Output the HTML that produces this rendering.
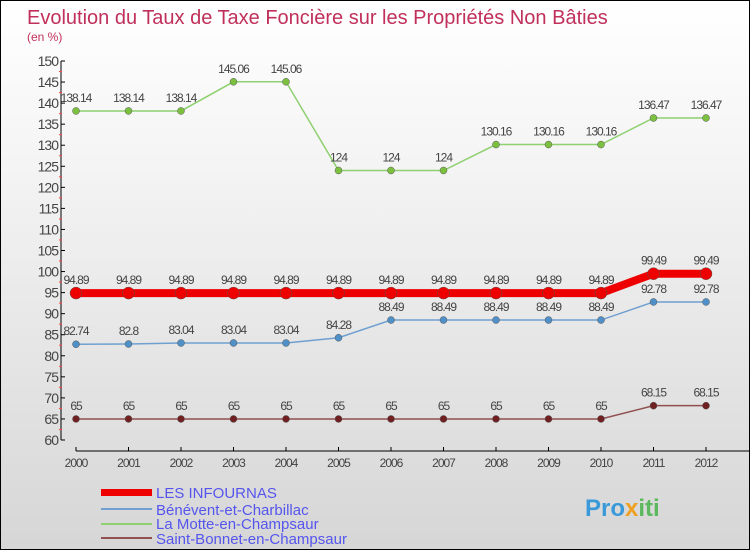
<!DOCTYPE html>
<html><head><meta charset="utf-8"><style>
body{margin:0}
#c{position:relative;width:748px;height:548px;border:1px solid #000;background:linear-gradient(#fff 0%,#f4f4f4 30%,#d6d6d6 100%);font-family:"Liberation Sans",sans-serif;overflow:hidden}
svg text{font-family:"Liberation Sans",sans-serif}
</style></head><body>
<div id="c">
<svg id="s" width="748" height="548">
<text x="26" y="23" font-size="20" fill="#c0305a">Evolution du Taux de Taxe Foncière sur les Propriétés Non Bâties</text>
<text x="26" y="40" font-size="12" fill="#c0305a">(en %)</text>
<g id="g"></g>
<g>
<rect x="100" y="488" width="51" height="7" fill="#e00"/>
<text x="155" y="497" font-size="15" fill="#5555ee">LES INFOURNAS</text>
<line x1="100" y1="508" x2="151" y2="508" stroke="#6fa0d0" stroke-width="2"/>
<text x="155" y="514" font-size="15" fill="#5555ee">Bénévent-et-Charbillac</text>
<line x1="100" y1="523" x2="151" y2="523" stroke="#8fd070" stroke-width="2"/>
<text x="155" y="528" font-size="15" fill="#5555ee">La Motte-en-Champsaur</text>
<line x1="100" y1="537" x2="151" y2="537" stroke="#905050" stroke-width="2"/>
<text x="155" y="543" font-size="15" fill="#5555ee">Saint-Bonnet-en-Champsaur</text>
</g>
<text x="584" y="515" font-size="24" font-weight="bold" fill="#3a9ad9">Pro<tspan fill="#f0a020">x</tspan><tspan fill="#5cb85c">iti</tspan></text>
</svg>
</div>
<script>
const years=[2000,2001,2002,2003,2004,2005,2006,2007,2008,2009,2010,2011,2012];
const infournas=[94.89,94.89,94.89,94.89,94.89,94.89,94.89,94.89,94.89,94.89,94.89,99.49,99.49];
const benevent=[82.74,82.8,83.04,83.04,83.04,84.28,88.49,88.49,88.49,88.49,88.49,92.78,92.78];
const laMotte=[138.14,138.14,138.14,145.06,145.06,124,124,124,130.16,130.16,130.16,136.47,136.47];
const saintBonnet=[65,65,65,65,65,65,65,65,65,65,65,68.15,68.15];
const yTicks=[60,65,70,75,80,85,90,95,100,105,110,115,120,125,130,135,140,145,150];
const NS="http://www.w3.org/2000/svg";
const g=document.getElementById('g');
const X=i=>75+i*52.5;
const Y=v=>439-(v-60)*379/90;
function mk(t,a){const e=document.createElementNS(NS,t);for(const k in a)e.setAttribute(k,a[k]);g.appendChild(e);return e;}
let e=mk('line',{x1:60,y1:Y(150),x2:60,y2:Y(60),stroke:'#000'});


e=mk('line',{x1:75,y1:450,x2:748,y2:450,stroke:'#000'});


yTicks.forEach(v=>{
 mk('line',{x1:60,y1:Y(v),x2:64,y2:Y(v),stroke:'#000'});
 if(v<150)mk('line',{x1:58,y1:Y(v+2.5),x2:61,y2:Y(v+2.5),stroke:'#f44'});
 const t=mk('text',{x:57,y:Y(v)+5,'font-size':14,fill:'#444','text-anchor':'end','letter-spacing':'-1'});t.textContent=v;
 
 
});
years.forEach((y,i)=>{
 mk('line',{x1:X(i),y1:446,x2:X(i),y2:450,stroke:'#000'});
 const t=mk('text',{x:X(i),y:466,'font-size':12,fill:'#444','text-anchor':'middle','letter-spacing':'-1'});t.textContent=y;
 
 
});
function series(d,col,w,r,dot,name){
 const p=mk('polyline',{points:d.map((v,i)=>X(i)+','+Y(v)).join(' '),fill:'none',stroke:col,'stroke-width':w});
 
 
 d.forEach((v,i)=>{
  const c=mk('circle',{cx:X(i),cy:Y(v),r:r,fill:dot,stroke:'#555','stroke-width':0.5});
  
  
  const t=mk('text',{x:X(i),y:Y(v)-9,'font-size':12,fill:'#444','text-anchor':'middle','letter-spacing':'-1'});t.textContent=v;
  
  
 });
}
series(laMotte,'#8fd070',1.5,3.5,'#7cc040','la-motte');
series(benevent,'#6fa0d0',1.5,3.5,'#5090c8','benevent');
series(saintBonnet,'#905050',1.5,3.5,'#702020','saint-bonnet');
series(infournas,'#e00',8,6,'#e00','infournas');
</script>
</body></html>
